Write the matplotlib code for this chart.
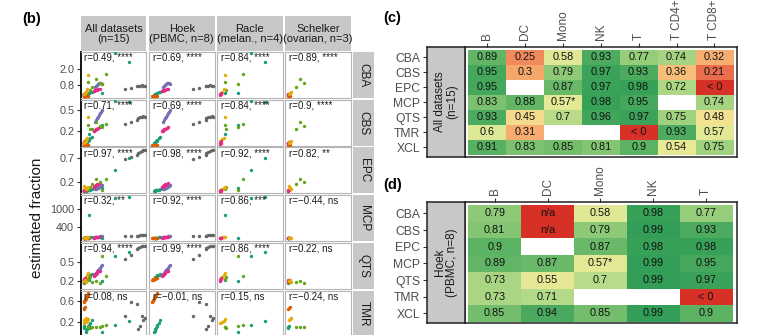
import numpy as np
import matplotlib
matplotlib.use("Agg")
import matplotlib.pyplot as plt
from matplotlib.colors import LinearSegmentedColormap

plt.rcParams['font.family'] = ['Liberation Sans', 'DejaVu Sans']

# ---------------------------------------------------------------- data
methods = ["CBA", "CBS", "EPC", "MCP", "QTS", "TMR"]
column_titles = ["All datasets\n(n=15)", "Hoek\n(PBMC, n=8)",
                 "Racle\n(melan., n=4)", "Schelker\n(ovarian, n=3)"]
cell_colors = {"B": "#1B9E77", "DC": "#D95F02", "Mono": "#7570B3", "NK": "#E7298A",
               "T CD4+": "#66A61E", "T CD8+": "#E6AB02", "T": "#666666"}

# true fractions per sample
hoek_true = dict(
    B=[0.030, 0.039, 0.048, 0.057, 0.066, 0.074, 0.092, 0.110],
    DC=[0.004, 0.013, 0.022, 0.030, 0.039, 0.048, 0.057, 0.066],
    Mono=[0.154, 0.167, 0.180, 0.189, 0.202, 0.215, 0.228, 0.242],
    NK=[0.136, 0.145, 0.154, 0.162, 0.171, 0.180, 0.198, 0.215],
    T=[0.550, 0.630, 0.720, 0.730, 0.750, 0.780, 0.800, 0.820])
racle_true = {"B": [0.074, 0.242, 0.418, 0.602],
              "T CD4+": [0.066, 0.083, 0.242, 0.303],
              "T CD8+": [0.004, 0.030, 0.048, 0.066],
              "NK": [0.002, 0.006, 0.010, 0.020]}
schelker_true = {"B": [0.000, 0.004, 0.013],
                 "DC": [0.004, 0.013, 0.022],
                 "NK": [0.000, 0.004, 0.013],
                 "T CD4+": [0.110, 0.162, 0.215],
                 "T CD8+": [0.013, 0.022, 0.039]}

# estimated fractions, Hoek
hoek_CBA = dict(B=[0.06, 0.10, 0.12, 0.15, 0.18, 0.20, 0.25, 0.28],
                DC=[0, 0, 0, 0, 0, 0, 0, 0],
                Mono=[0.63, 0.73, 0.80, 0.88, 0.93, 0.93, 0.98, 0.90],
                NK=[0.35, 0.38, 0.40, 0.42, 0.44, 0.45, 0.47, 0.48],
                T=[0.50, 0.60, 0.75, 0.73, 0.73, 0.78, 0.70, 0.70])
hoek_CBS = dict(B=[0.02, 0.03, 0.04, 0.05, 0.06, 0.07, 0.09, 0.11],
                DC=[0, 0, 0, 0, 0, 0, 0, 0],
                Mono=[0.32, 0.35, 0.38, 0.40, 0.43, 0.45, 0.47, 0.49],
                NK=[0.19, 0.20, 0.21, 0.22, 0.22, 0.23, 0.24, 0.25],
                T=[0.30, 0.33, 0.36, 0.38, 0.39, 0.40, 0.41, 0.40])
hoek_EPC = dict(B=[0.02, 0.025, 0.03, 0.035, 0.04, 0.045, 0.05, 0.06],
                Mono=[0.06, 0.07, 0.08, 0.09, 0.10, 0.11, 0.13, 0.15],
                NK=[0.11, 0.12, 0.13, 0.14, 0.15, 0.16, 0.17, 0.18],
                T=[0.69, 0.72, 0.76, 0.80, 0.82, 0.84, 0.86, 0.87])
hoek_MCP = dict(B=[20, 25, 30, 35, 40, 45, 50, 55],
                DC=[15, 18, 20, 22, 25, 28, 30, 35],
                Mono=[60, 65, 70, 75, 80, 85, 90, 95],
                NK=[40, 45, 50, 55, 60, 62, 66, 70],
                T=[90, 95, 105, 110, 115, 118, 122, 125])
hoek_QTS = dict(B=[0.24, 0.25, 0.26, 0.27, 0.28, 0.29, 0.30, 0.31],
                DC=[0.22, 0.22, 0.23, 0.23, 0.24, 0.24, 0.25, 0.25],
                Mono=[0.31, 0.33, 0.35, 0.37, 0.39, 0.41, 0.43, 0.45],
                NK=[0.28, 0.29, 0.30, 0.31, 0.32, 0.33, 0.35, 0.36],
                T=[0.54, 0.60, 0.70, 0.72, 0.73, 0.74, 0.75, 0.75])
hoek_TMR = dict(B=[0.00, 0.03, 0.06, 0.09, 0.12, 0.15, 0.19, 0.24],
                DC=[0.58, 0.60, 0.62, 0.65, 0.68, 0.70, 0.73, 0.76],
                T=[0.31, 0.58, 0.55, 0.06, 0.12, 0.31, 0.23, 0.28])

# estimated fractions, Racle
racle_CBA = {"B": [0.20, 0.23, 3.19, 2.56], "T CD4+": [1.05, 0.43, 0.86, 1.63],
             "T CD8+": [0.15, 0.30, 0.50, 1.56], "NK": [0.05, 0.10, 0.15, 0.20]}
racle_CBS = {"B": [0.16, 0.28, 0.62, 0.61], "T CD4+": [0.28, 0.22, 0.25, 0.30],
             "T CD8+": [0.05, 0.08, 0.10, 0.39], "NK": [0.01, 0.02, 0.03, 0.05]}
racle_EPC = {"B": [0.08, 0.09, 0.46, 0.70], "T CD4+": [0.06, 0.10, 0.03, 0.26],
             "T CD8+": [0.04, 0.06, 0.08, 0.10], "NK": [0.01, 0.02, 0.02, 0.03]}
racle_MCP = {"B": [817, 27, 1380, 1420], "T CD8+": [40, 50, 60, 80],
             "NK": [20, 25, 30, 35]}
racle_QTS = {"B": [0.22, 0.20, 0.59, 0.65], "T CD4+": [0.24, 0.26, 0.59, 0.28],
             "T CD8+": [0.24, 0.27, 0.30, 0.32], "NK": [0.20, 0.22, 0.23, 0.25]}
racle_TMR = {"B": [0.10, 0.00, 0.14, 0.22], "T CD4+": [0.10, 0.08, 0.12, 0.14],
             "T CD8+": [0.18, 0.20, 0.22, 0.25]}

# estimated fractions, Schelker
schelker_CBA = {"B": [0.05, 0.08, 0.10], "DC": [0, 0, 0], "NK": [0.10, 0.12, 0.15],
                "T CD4+": [0.68, 1.23, 0.93], "T CD8+": [0.15, 0.20, 0.25]}
schelker_CBS = {"B": [0.02, 0.03, 0.03], "DC": [0, 0, 0], "NK": [0.02, 0.03, 0.04],
                "T CD4+": [0.22, 0.33, 0.27], "T CD8+": [0.03, 0.04, 0.05]}
schelker_EPC = {"B": [0.02, 0.03, 0.04], "NK": [0.02, 0.03, 0.04],
                "T CD4+": [0.16, 0.27, 0.20], "T CD8+": [0.13, 0.08, 0.06]}
schelker_MCP = {"B": [15, 20, 25], "DC": [30, 35, 40], "NK": [20, 25, 30],
                "T CD8+": [20, 30, 40]}
schelker_QTS = {"B": [0.17, 0.18, 0.19], "DC": [0.19, 0.20, 0.21], "NK": [0.20, 0.21, 0.22],
                "T CD4+": [0.18, 0.20, 0.17], "T CD8+": [0.20, 0.22, 0.19]}
schelker_TMR = {"B": [0.08, 0.10, 0.12], "DC": [0.45, 0.48, 0.50],
                "T CD4+": [0.10, 0.11, 0.10], "T CD8+": [0.24, 0.26, 0.28]}

r_labels = {
    "CBA": ["r=0.49, ****", "r=0.69, ****", "r=0.84, ****", "r=0.89, ****"],
    "CBS": ["r=0.71, ****", "r=0.69, ****", "r=0.84, ****", "r=0.9, ****"],
    "EPC": ["r=0.97, ****", "r=0.98, ****", "r=0.92, ****", "r=0.82, **"],
    "MCP": ["r=0.32, **", "r=0.92, ****", "r=0.86, ***", "r=\u22120.44, ns"],
    "QTS": ["r=0.94, ****", "r=0.99, ****", "r=0.86, ****", "r=0.22, ns"],
    "TMR": ["r=0.08, ns", "r=\u22120.01, ns", "r=0.15, ns", "r=\u22120.24, ns"],
}
y_ticks = {"CBA": [0.8, 2.0], "CBS": [0.2, 0.5], "EPC": [0.2, 0.7],
           "MCP": [400, 1000], "QTS": [0.2, 0.5], "TMR": [0.2, 0.6]}
y_limits = {"CBA": (-0.17, 3.28), "CBS": (-0.014, 0.643), "EPC": (-0.03, 0.92),
            "MCP": (-75, 1485), "QTS": (0.08, 0.795), "TMR": (-0.08, 0.81)}

# correlation heatmaps
heat_rows = ["CBA", "CBS", "EPC", "MCP", "QTS", "TMR", "XCL"]
all_cols = ["B", "DC", "Mono", "NK", "T", "T CD4+", "T CD8+"]
corr_all = [
    ["0.89", "0.25", "0.58", "0.93", "0.77", "0.74", "0.32"],
    ["0.95", "0.3", "0.79", "0.97", "0.93", "0.36", "0.21"],
    ["0.95", "", "0.87", "0.97", "0.98", "0.72", "< 0"],
    ["0.83", "0.88", "0.57*", "0.98", "0.95", "", "0.74"],
    ["0.93", "0.45", "0.7", "0.96", "0.97", "0.75", "0.48"],
    ["0.6", "0.31", "", "", "< 0", "0.93", "0.57"],
    ["0.91", "0.83", "0.85", "0.81", "0.9", "0.54", "0.75"],
]
hoek_cols = ["B", "DC", "Mono", "NK", "T"]
corr_hoek = [
    ["0.79", "n/a", "0.58", "0.98", "0.77"],
    ["0.81", "n/a", "0.79", "0.99", "0.93"],
    ["0.9", "", "0.87", "0.98", "0.98"],
    ["0.89", "0.87", "0.57*", "0.99", "0.95"],
    ["0.73", "0.55", "0.7", "0.99", "0.97"],
    ["0.73", "0.71", "", "", "< 0"],
    ["0.85", "0.94", "0.85", "0.99", "0.9"],
]

# ---------------------------------------------------------------- layout helpers
W, H = 784, 335
fig = plt.figure(figsize=(W / 100, H / 100), dpi=100)


def box(x0, y0, x1, y1):
    return [x0 / W, 1 - y1 / H, (x1 - x0) / W, (y1 - y0) / H]


STRIP = "#c8c8c8"
TXT = "#1a1a1a"
TICKTXT = "#4d4d4d"

# ---------------------------------------------------------------- panel (b)
col_x = [(80.5, 146.5), (148.7, 214.7), (216.9, 282.9), (285.1, 351.1)]
row_y = [52, 99.7, 147.4, 195.1, 242.8, 290.5]
row_h = 46

sources = [(hoek_true, {"CBA": hoek_CBA, "CBS": hoek_CBS, "EPC": hoek_EPC,
                        "MCP": hoek_MCP, "QTS": hoek_QTS, "TMR": hoek_TMR}),
           (racle_true, {"CBA": racle_CBA, "CBS": racle_CBS, "EPC": racle_EPC,
                         "MCP": racle_MCP, "QTS": racle_QTS, "TMR": racle_TMR}),
           (schelker_true, {"CBA": schelker_CBA, "CBS": schelker_CBS, "EPC": schelker_EPC,
                            "MCP": schelker_MCP, "QTS": schelker_QTS, "TMR": schelker_TMR})]

for c, (x0, x1) in enumerate(col_x):
    sax = fig.add_axes(box(x0, 16, x1, 51))
    sax.set_facecolor(STRIP)
    sax.set_xticks([]); sax.set_yticks([])
    for s in sax.spines.values():
        s.set_visible(False)
    sax.text(0.5, 0.5, column_titles[c], ha="center", va="center", fontsize=8,
             color=TXT, linespacing=1.0, transform=sax.transAxes, clip_on=False)

for r, m in enumerate(methods):
    y0 = row_y[r]
    for c, (x0, x1) in enumerate(col_x):
        ax = fig.add_axes(box(x0, y0, x1, y0 + row_h))
        ax.set_xlim(-0.04, 0.84)
        ax.set_ylim(*y_limits[m])
        used = sources if c == 0 else [sources[c - 1]]
        for true, est in used:
            for ct, ys in est[m].items():
                ax.scatter(true[ct], ys, s=6, color=cell_colors[ct], linewidths=0, zorder=3)
        ax.text(0.06, 0.985, r_labels[m][c], transform=ax.transAxes, ha="left", va="top",
                fontsize=7, color=TXT, zorder=4)
        ax.set_xticks([])
        for s in ax.spines.values():
            s.set_color("#b5b5b5"); s.set_linewidth(0.8)
        if c == 0:
            ax.set_yticks(y_ticks[m])
            ax.set_yticklabels([f"{v:g}" if v >= 100 else f"{v:.1f}" for v in y_ticks[m]])
            ax.tick_params(axis="y", length=3, width=0.8, color="#333333", pad=1.5,
                           labelsize=7.8, labelcolor=TICKTXT)
            ax.spines["left"].set_color("black")
            ax.spines["left"].set_linewidth(1.3)
        else:
            ax.set_yticks([])
    rax = fig.add_axes(box(353, y0, 374, y0 + row_h))
    rax.set_facecolor(STRIP)
    rax.set_xticks([]); rax.set_yticks([])
    for s in rax.spines.values():
        s.set_visible(False)
    rax.text(0.5, 0.5, m, rotation=-90, ha="center", va="center", fontsize=8.5,
             color=TXT, transform=rax.transAxes)

fig.text(37 / W, 1 - 218 / H, "estimated fraction", rotation=90, ha="center",
         va="center", fontsize=11, color=TXT)
fig.text(22 / W, 1 - 19 / H, "(b)", fontsize=10.5, fontweight="bold", va="center")

# ---------------------------------------------------------------- heatmaps
heat_cmap = LinearSegmentedColormap.from_list("corr", [
    (0.0, "#d73027"), (0.2, "#ea6a4c"), (0.3, "#f6a96c"), (0.4, "#f9cd83"),
    (0.5, "#f1e895"), (0.6, "#dde895"), (0.7, "#b8dc8a"), (0.8, "#8ac876"),
    (0.9, "#5db364"), (1.0, "#2f9d56")])
heat_cmap.set_bad("white")


def cell_value(label):
    if label == "":
        return np.nan
    if label in ("< 0", "n/a"):
        return 0.0
    return float(label.rstrip("*"))


def heatmap(table, cols, strip_text, top, bottom, pad_l, pad_r, pad_t, pad_b):
    vals = np.array([[cell_value(v) for v in row] for row in table])
    nr, nc = vals.shape
    ax = fig.add_axes(box(465, top, 736.7, bottom))
    ax.imshow(np.ma.masked_invalid(vals), cmap=heat_cmap, vmin=0, vmax=1,
              extent=(0.5, nc + 0.5, nr + 0.5, 0.5), aspect="auto", interpolation="nearest")
    for i, row in enumerate(table):
        for j, lab in enumerate(row):
            if lab:
                ax.text(j + 1, i + 1, lab, ha="center", va="center", fontsize=7.8, color="#111111")
    ax.set_xlim(0.5 - pad_l, nc + 0.5 + pad_r)
    ax.set_ylim(nr + 0.5 + pad_b, 0.5 - pad_t)
    ax.xaxis.tick_top()
    ax.set_xticks(np.arange(1, nc + 1))
    ax.set_xticklabels(cols, rotation=90)
    ax.tick_params(axis="x", length=3, width=0.8, color="#333333", pad=1.5,
                   labelsize=8.5, labelcolor=TICKTXT)
    ax.set_yticks([])
    for s in ax.spines.values():
        s.set_color("#222222"); s.set_linewidth(1.1)

    sax = fig.add_axes(box(426.7, top, 465, bottom))
    sax.set_facecolor(STRIP)
    sax.set_xticks([])
    sax.set_ylim(nr + 0.5 + pad_b, 0.5 - pad_t)
    sax.set_yticks(np.arange(1, nr + 1))
    sax.set_yticklabels(heat_rows)
    sax.tick_params(axis="y", length=3, width=0.8, color="#333333", pad=1.5,
                    labelsize=8.7, labelcolor=TICKTXT)
    for s in sax.spines.values():
        s.set_color("#222222"); s.set_linewidth(1.1)
    sax.text(0.5, 0.5, strip_text, rotation=90, ha="center", va="center", fontsize=8.5,
             color=TXT, linespacing=1.0, transform=sax.transAxes)


heatmap(corr_all, all_cols, "All datasets\n(n=15)", 46.7, 156.7,
        3.3 / 37.86, 3.4 / 37.86, 3.1 / 15, 1.9 / 15)
heatmap(corr_hoek, hoek_cols, "Hoek\n(PBMC, n=8)", 201.7, 323.3,
        3.3 / 52.8, 4.4 / 52.8, 3.3 / 16.67, 1.6 / 16.67)

fig.text(383 / W, 1 - 18 / H, "(c)", fontsize=10.5, fontweight="bold", va="center")
fig.text(383 / W, 1 - 185 / H, "(d)", fontsize=10.5, fontweight="bold", va="center")

fig.savefig("out.png", dpi=100)
